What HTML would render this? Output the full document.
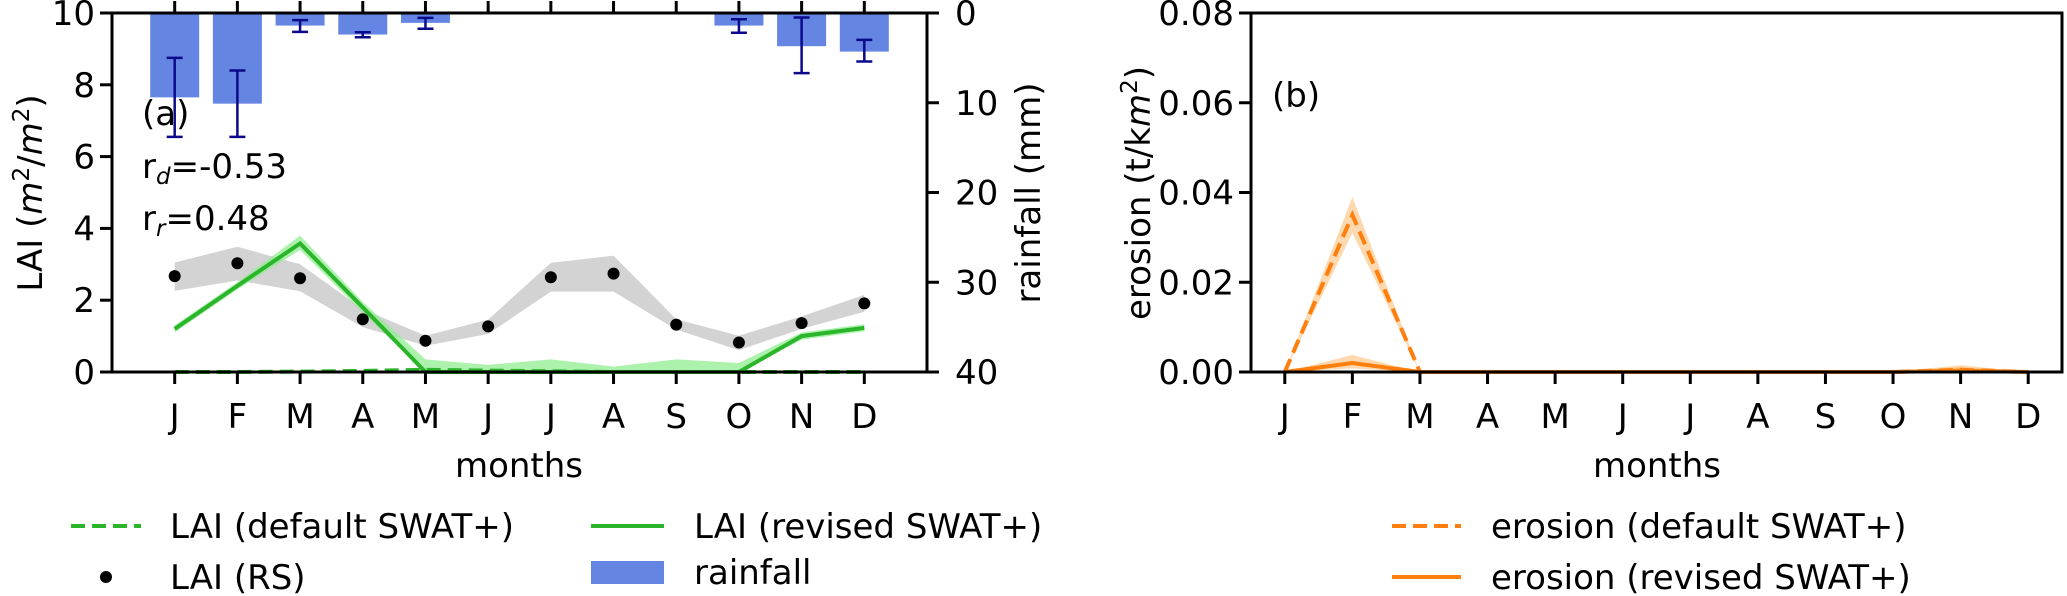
<!DOCTYPE html>
<html><head><meta charset="utf-8">
<style>
html,body{margin:0;padding:0;background:#fff;}
svg{display:block;font-family:"DejaVu Sans","Liberation Sans",sans-serif;}
</style></head>
<body>
<svg id="chart" width="2067" height="596" viewBox="0 0 2067 596" xmlns="http://www.w3.org/2000/svg">
</svg>
<script>
const months = ['J','F','M','A','M','J','J','A','S','O','N','D'];
// panel a data
const rainMean = [9.4,10.1,1.4,2.4,1.1,0,0,0,0,1.4,3.7,4.3];
const rainLow  = [5.0,6.4,0.8,2.15,0.55,0,0,0,0,0.7,0.5,3.0];
const rainHigh = [13.8,13.8,2.1,2.7,1.75,0,0,0,0,2.2,6.7,5.4];
const laiRS    = [2.67,3.03,2.61,1.47,0.87,1.27,2.64,2.74,1.32,0.82,1.36,1.91];
const laiRSUp  = [3.05,3.49,3.0,1.75,1.01,1.46,3.04,3.24,1.47,1.01,1.55,2.15];
const laiRSLo  = [2.26,2.55,2.25,1.25,0.73,1.06,2.24,2.24,1.18,0.61,1.2,1.68];
const laiRev   = [1.2,2.4,3.58,1.8,0,0,0,0,0,0,1.0,1.23];
const laiRevUp = [1.3,2.5,3.8,1.95,0.35,0.2,0.35,0.15,0.35,0.25,1.1,1.33];
const laiRevLo = [1.1,2.3,3.4,1.65,0,0,0,0,0,0,0.9,1.13];
const laiDef   = [0,0,0.01,0.03,0.06,0.04,0.02,0,0,0,0,0];
const laiTicks = [0,2,4,6,8,10];
const rainTicks = [0,10,20,30,40];
// panel b data
const eroDef   = [0,0.035,0,0,0,0,0,0,0,0,0.0005,0];
const eroDefUp = [0,0.039,0,0,0,0,0,0,0,0,0.0012,0];
const eroDefLo = [0,0.031,0,0,0,0,0,0,0,0,0,0];
const eroRev   = [0,0.002,0,0,0,0,0,0,0,0,0.0003,0];
const eroRevUp = [0,0.0038,0,0,0,0,0,0,0,0,0.0015,0];
const eroRevLo = [0,0.0008,0,0,0,0,0,0,0,0,0,0];
const eroTicks = [0,0.02,0.04,0.06,0.08];

const NS='http://www.w3.org/2000/svg';
const svg=document.getElementById('chart');
function mk(tag,attrs,parent){const e=document.createElementNS(NS,tag);for(const k in attrs)e.setAttribute(k,attrs[k]);(parent||svg).appendChild(e);return e;}

const FS=34;
const TOP=13,BOT=372;
const A={l:112,r:927}, B={l:1251,r:2062};
const xa=i=>A.l+(i+1)*(A.r-A.l)/13;
const xb=i=>B.l+(i+0.5)*(B.r-B.l)/12;
const ya=v=>BOT-v*(BOT-TOP)/10;
const yr=v=>TOP+v*(BOT-TOP)/40;
const yb=v=>BOT-v*(BOT-TOP)/0.08;

function band(xf,yf,up,lo,fill,name){
  let d='M'+up.map((v,i)=>xf(i)+','+yf(v)).join('L');
  for(let i=lo.length-1;i>=0;i--) d+='L'+xf(i)+','+yf(lo[i]);
  const p=mk('path',{d:d+'Z',fill:fill,stroke:'none'});
  
  
}
function line(xf,yf,vals,color,dash,name){
  const p=mk('polyline',{points:vals.map((v,i)=>xf(i)+','+yf(v)).join(' '),fill:'none',stroke:color,'stroke-width':4,'stroke-dasharray':dash||'none'});
  
  
}
function text(x,y,s,opts,name){
  const t=mk('text',Object.assign({x:x,y:y,'font-size':FS,fill:'#000'},opts||{}));
  t.innerHTML=s;
  
  
  return t;
}

// ---- Panel A ----
rainMean.forEach((v,i)=>{
  if(v<=0) return;
  const w=49;
  const r=mk('rect',{x:xa(i)-w/2,y:TOP,width:w,height:yr(v)-TOP,fill:'#6585e3'});
  
  
  const g=mk('g',{stroke:'#0a0a8a','stroke-width':2.5});
  
  
  mk('line',{x1:xa(i),x2:xa(i),y1:yr(rainLow[i]),y2:yr(rainHigh[i])},g);
  mk('line',{x1:xa(i)-8,x2:xa(i)+8,y1:yr(rainLow[i]),y2:yr(rainLow[i])},g);
  mk('line',{x1:xa(i)-8,x2:xa(i)+8,y1:yr(rainHigh[i]),y2:yr(rainHigh[i])},g);
});
band(xa,ya,laiRSUp,laiRSLo,'#d3d3d3','lai-rs-band');
band(xa,ya,laiRevUp,laiRevLo,'rgba(144,238,144,0.75)','lai-revised-band');
line(xa,ya,laiDef,'#2ab52a','14 7','lai-default-line');
line(xa,ya,laiRev,'#2ab52a',null,'lai-revised-line');
laiRS.forEach((v,i)=>{
  const c=mk('circle',{cx:xa(i),cy:ya(v),r:6,fill:'#000'});
  
  
});
const axA=mk('g',{stroke:'#000','stroke-width':3,fill:'none'});


mk('rect',{x:A.l,y:TOP,width:A.r-A.l,height:BOT-TOP},axA);
laiTicks.forEach(v=>{
  mk('line',{x1:A.l-12,x2:A.l,y1:ya(v),y2:ya(v)},axA);
  text(A.l-17,ya(v)+12,v,{'text-anchor':'end'},'lai-tick-label');
});
rainTicks.forEach(v=>{
  mk('line',{x1:A.r,x2:A.r+12,y1:yr(v),y2:yr(v)},axA);
  text(A.r+28,yr(v)+12,v,{},'rainfall-tick-label');
});
months.forEach((m,i)=>{
  mk('line',{x1:xa(i),x2:xa(i),y1:BOT,y2:BOT+12},axA);
  mk('line',{x1:xa(i),x2:xa(i),y1:TOP,y2:TOP-12},axA);
  text(xa(i),428,m,{'text-anchor':'middle'},'month-tick-label');
});
text(519,477,'months',{'text-anchor':'middle'},'x-axis-title');
text(0,0,'LAI (<tspan font-style="italic">m</tspan><tspan font-size="23" dy="-13">2</tspan><tspan dy="13">/</tspan><tspan font-style="italic">m</tspan><tspan font-size="23" dy="-13">2</tspan><tspan dy="13">)</tspan>',{'text-anchor':'middle',transform:'translate(42,193) rotate(-90)'},'lai-axis-title');
text(0,0,'rainfall (mm)',{'text-anchor':'middle',transform:'translate(1040,193) rotate(-90)'},'rainfall-axis-title');
text(142,125,'(a)',{},'panel-a-label');
text(142,178,'r<tspan font-size="23" font-style="italic" dy="6">d</tspan><tspan dy="-6">=-0.53</tspan>',{},'rd-annotation');
text(142,230,'r<tspan font-size="23" font-style="italic" dy="6">r</tspan><tspan dy="-6">=0.48</tspan>',{},'rr-annotation');

// ---- Panel B ----
band(xb,yb,eroDefUp,eroDefLo,'rgba(253,200,140,0.7)','erosion-default-band');
band(xb,yb,eroRevUp,eroRevLo,'rgba(253,200,140,0.7)','erosion-revised-band');
line(xb,yb,eroDef,'#ff7f0e','14 7','erosion-default-line');
line(xb,yb,eroRev,'#ff7f0e',null,'erosion-revised-line');
const axB=mk('g',{stroke:'#000','stroke-width':3,fill:'none'});


mk('rect',{x:B.l,y:TOP,width:B.r-B.l,height:BOT-TOP},axB);
eroTicks.forEach(v=>{
  mk('line',{x1:B.l-12,x2:B.l,y1:yb(v),y2:yb(v)},axB);
  text(B.l-17,yb(v)+12,v.toFixed(2),{'text-anchor':'end'},'erosion-tick-label');
});
months.forEach((m,i)=>{
  mk('line',{x1:xb(i),x2:xb(i),y1:BOT,y2:BOT+12},axB);
  text(xb(i),428,m,{'text-anchor':'middle'},'month-tick-label');
});
text(1657,477,'months',{'text-anchor':'middle'},'x-axis-title-b');
text(0,0,'erosion (t/k<tspan font-style="italic">m</tspan><tspan font-size="23" dy="-13">2</tspan><tspan dy="13">)</tspan>',{'text-anchor':'middle',transform:'translate(1150,193) rotate(-90)'},'erosion-axis-title');
text(1272,107,'(b)',{},'panel-b-label');

// ---- Legends ----
function legLine(x1,x2,y,color,dash,name){
  const l=mk('line',{x1:x1,x2:x2,y1:y,y2:y,stroke:color,'stroke-width':4,'stroke-dasharray':dash||'none'});
  
  
}
legLine(71,141,526,'#2ab52a','14 7','legend-lai-default-line');
text(170,538,'LAI (default SWAT+)',{},'legend-lai-default');
const dot=mk('circle',{cx:106,cy:577,r:6,fill:'#000'});


text(170,589,'LAI (RS)',{},'legend-lai-rs');
legLine(591,664,526,'#2ab52a',null,'legend-lai-revised-line');
text(694,538,'LAI (revised SWAT+)',{},'legend-lai-revised');
const lr=mk('rect',{x:591,y:561,width:73,height:23,fill:'#6585e3'});


text(694,584,'rainfall',{},'legend-rainfall');
legLine(1392,1461,526,'#ff7f0e','14 7','legend-erosion-default-line');
text(1491,538,'erosion (default SWAT+)',{},'legend-erosion-default');
legLine(1392,1461,577,'#ff7f0e',null,'legend-erosion-revised-line');
text(1491,589,'erosion (revised SWAT+)',{},'legend-erosion-revised');
</script>
</body></html>
